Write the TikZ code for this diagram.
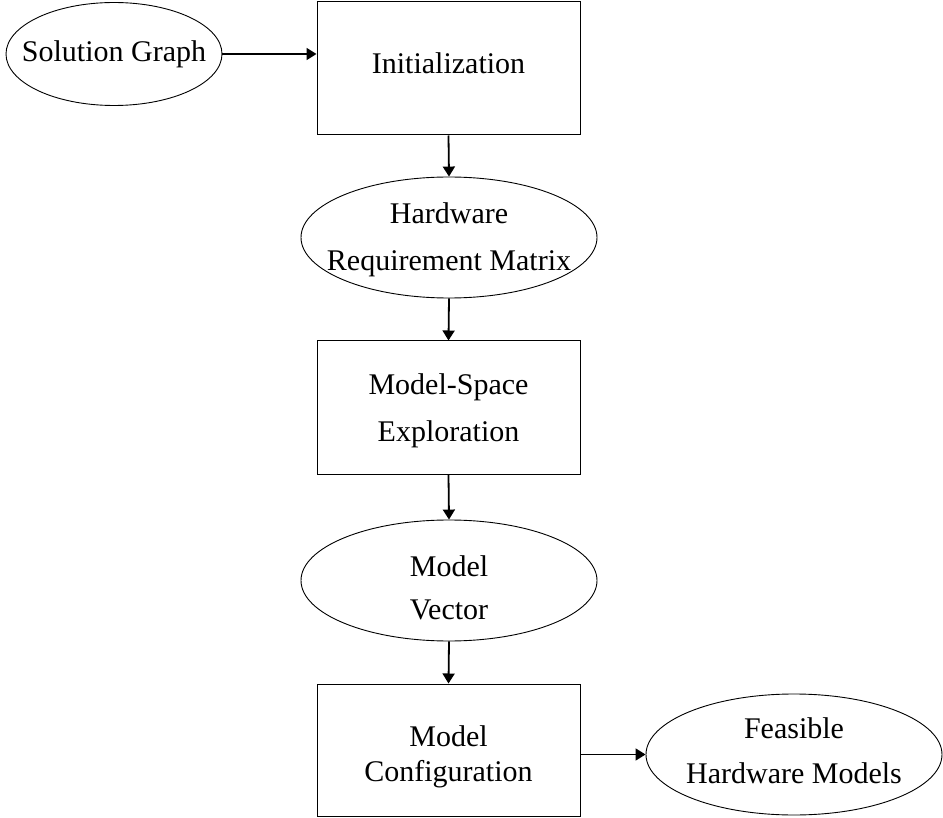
\documentclass[tikz,border=0pt]{standalone}
\usepackage{fontspec}
\setmainfont{Liberation Serif}
\usetikzlibrary{shapes.geometric,arrows.meta}
\begin{document}
\begin{tikzpicture}[x=1pt,y=-1pt,
  txt/.style={font=\fontsize{30}{42}\selectfont,align=center,inner sep=0pt},
  stepbox/.style={draw,line width=1pt,minimum width=263pt,minimum height=133pt,inner sep=0pt},
  datum/.style={draw,ellipse,line width=0.9pt,inner sep=0pt,minimum width=296pt,minimum height=121pt},
  flow/.style={line width=1.8pt,-{Triangle[length=10pt,width=12pt]}}]
\useasboundingbox (0,0) rectangle (943,818);

% process steps
\node[stepbox] (init) at (448.5,68.5) {};
\node[stepbox] (mse)  at (448.5,407.5) {};
\node[stepbox,minimum height=132pt] (mc) at (448.5,750) {};

% data items
\node[datum,minimum width=216pt,minimum height=103pt] (sol) at (114,54) {};
\node[datum] (hrm) at (449,237.5) {};
\node[datum] (mv) at (449,580.5) {};
\node[datum] (feas) at (794,754.5) {};

% labels
\node[txt] (initt) at ([yshift=5pt]init.center) {Initialization};
\node[txt,font=\fontsize{30}{47}\selectfont] (mset) at ([yshift=-3.5pt]mse.center) {Model-Space\\Exploration};
\node[txt,font=\fontsize{30}{35}\selectfont] (mct) at ([yshift=-7pt]mc.center) {Model\\Configuration};
\node[txt] (solt) at (sol.center) {Solution Graph};
\node[txt,font=\fontsize{30}{47}\selectfont] (hrmt) at ([yshift=-2pt]hrm.center) {Hardware\\Requirement Matrix};
\node[txt,font=\fontsize{30}{43}\selectfont] (mvt) at ([yshift=-7pt]mv.center) {Model\\Vector};
\node[txt,font=\fontsize{30}{45}\selectfont] (feast) at ([yshift=3.5pt]feas.center) {Feasible\\Hardware Models};

% flow
\draw[flow] (sol.east) -- (sol.east -| init.west);
\draw[flow] (init.south) -- (hrm.north);
\draw[flow] (hrm.south) -- (mse.north);
\draw[flow] (mse.south) -- (mv.north);
\draw[flow] (mv.south) -- (mc.north);
\draw[flow] (feas.west -| mc.east) -- (feas.west);
\end{tikzpicture}
\end{document}
